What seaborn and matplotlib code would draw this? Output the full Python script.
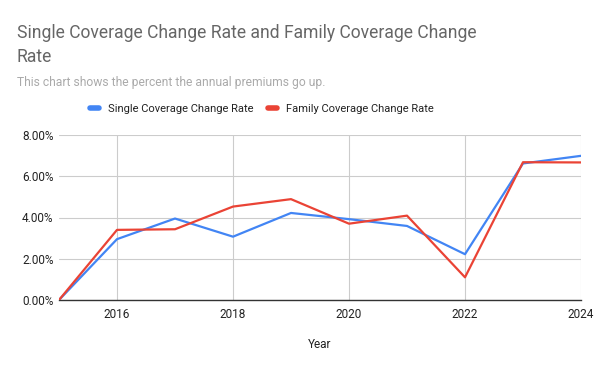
import numpy as np
import pandas as pd
import matplotlib
matplotlib.use("Agg")
import matplotlib.pyplot as plt
import matplotlib.ticker as mticker
import seaborn as sns

years = [2015, 2016, 2017, 2018, 2019, 2020, 2021, 2022, 2023, 2024]
single_rate = [0.0, 2.95, 3.95, 3.07, 4.22, 3.92, 3.59, 2.22, 6.62, 6.99]
family_rate = [0.0, 3.40, 3.43, 4.53, 4.89, 3.70, 4.09, 1.10, 6.68, 6.67]
series_names = ["Single Coverage Change Rate", "Family Coverage Change Rate"]
x_ticks = [2016, 2018, 2020, 2022, 2024]
y_ticks = [0, 2, 4, 6, 8]

df = pd.DataFrame({
    "Year": years * 2,
    "Rate": single_rate + family_rate,
    "Series": [series_names[0]] * len(years) + [series_names[1]] * len(years),
})

sns.set_theme(style="white")
plt.rcParams["font.family"] = ["Roboto", "DejaVu Sans"]

fig = plt.figure(figsize=(6, 3.71), dpi=100)
ax = fig.add_axes([59 / 600, 1 - 300 / 371, (581 - 59) / 600, (300 - 135) / 371])

palette = {series_names[0]: "#4285F4", series_names[1]: "#EA4335"}
sns.lineplot(data=df, x="Year", y="Rate", hue="Series", palette=palette,
             linewidth=1.6, ax=ax, legend=False, zorder=3)

ax.set_xlim(2015, 2024)
ax.set_ylim(0, 8)
ax.set_xticks(x_ticks)
ax.set_yticks(y_ticks)
ax.yaxis.set_major_formatter(mticker.FuncFormatter(lambda v, p: f"{v:.2f}%"))
ax.grid(True, color="#cccccc", linewidth=0.8)
ax.set_axisbelow(True)
for s in ["top", "right", "left"]:
    ax.spines[s].set_visible(False)
ax.spines["bottom"].set_color("#333333")
ax.spines["bottom"].set_linewidth(1.0)
ax.tick_params(axis="both", length=0, labelsize=8.5, colors="#222222")
ax.tick_params(axis="x", pad=6)
ax.tick_params(axis="y", pad=4)
ax.set_xlabel("Year", fontsize=8.5, color="#222222", labelpad=12)
ax.set_ylabel("")

fig.text(17 / 600, 1 - 24 / 371, "Single Coverage Change Rate and Family Coverage Change\nRate",
         fontsize=12.65, color="#666666", va="top", linespacing=1.45)
fig.text(17 / 600, 1 - 86 / 371, "This chart shows the percent the annual premiums go up.",
         fontsize=8.75, color="#aaaaaa", va="baseline")

handles = [plt.Line2D([0], [0], color=palette[n], linewidth=4) for n in series_names]
fig.legend(handles, series_names, loc="center", bbox_to_anchor=(262 / 600, 1 - 109 / 371),
           ncol=2, frameon=False, fontsize=8, handlelength=0.8, columnspacing=1.3,
           handletextpad=0.8, labelcolor="#222222")

fig.savefig("out.png", dpi=100)
